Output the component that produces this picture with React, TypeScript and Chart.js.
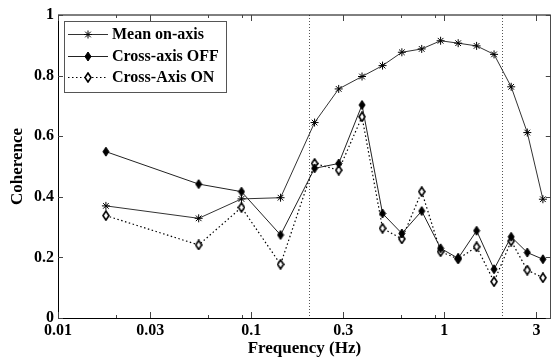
import React, { useEffect, useRef } from "react";
import { Chart, registerables } from "chart.js";

Chart.register(...registerables);

// ---- data ----
const frequencies = [0.0177, 0.0535, 0.0891, 0.142, 0.213, 0.284, 0.375, 0.479, 0.603, 0.764, 0.957, 1.18, 1.47, 1.81, 2.22, 2.69, 3.24];
const meanOnAxis = [0.37, 0.329, 0.393, 0.397, 0.645, 0.756, 0.797, 0.833, 0.877, 0.888, 0.915, 0.907, 0.898, 0.87, 0.763, 0.612, 0.392];
const crossAxisOff = [0.549, 0.442, 0.417, 0.274, 0.494, 0.51, 0.703, 0.345, 0.279, 0.353, 0.23, 0.197, 0.288, 0.161, 0.268, 0.216, 0.194];
const crossAxisOn = [0.338, 0.241, 0.365, 0.177, 0.51, 0.488, 0.664, 0.296, 0.261, 0.417, 0.219, 0.195, 0.235, 0.12, 0.254, 0.158, 0.133];
const seriesLabels = ["Mean on-axis", "Cross-axis OFF", "Cross-Axis ON"];
const xMajorTicks = [0.01, 0.03, 0.1, 0.3, 1, 3];
const xMinorTicks = [0.02, 0.06, 0.09, 0.6, 0.9];
const referenceLines = [0.2, 2];
const yTicks = [0, 0.2, 0.4, 0.6, 0.8, 1];
const xTitle = "Frequency (Hz)";
const yTitle = "Coherence";

const FONT = "'Liberation Serif', 'Times New Roman', serif";

function makeDiamond(fill: string, stroke: string, w: number, h: number, lw: number) {
  const c = document.createElement("canvas");
  c.width = w + 2;
  c.height = h + 2;
  const ctx = c.getContext("2d")!;
  const cx = c.width / 2;
  const cy = c.height / 2;
  ctx.beginPath();
  ctx.moveTo(cx, cy - h / 2);
  ctx.lineTo(cx + w / 2, cy);
  ctx.lineTo(cx, cy + h / 2);
  ctx.lineTo(cx - w / 2, cy);
  ctx.closePath();
  ctx.fillStyle = fill;
  ctx.fill();
  ctx.lineWidth = lw;
  ctx.strokeStyle = stroke;
  ctx.stroke();
  return c;
}

function drawStar(ctx: CanvasRenderingContext2D, x: number, y: number, r: number) {
  ctx.save();
  ctx.strokeStyle = "#000";
  ctx.lineWidth = 1;
  ctx.beginPath();
  ctx.moveTo(x - r, y);
  ctx.lineTo(x + r, y);
  ctx.moveTo(x, y - r);
  ctx.lineTo(x, y + r);
  const d = r * 0.707;
  ctx.moveTo(x - d, y - d);
  ctx.lineTo(x + d, y + d);
  ctx.moveTo(x - d, y + d);
  ctx.lineTo(x + d, y - d);
  ctx.stroke();
  ctx.restore();
}

export default function App() {
  const ref = useRef<HTMLCanvasElement | null>(null);

  useEffect(() => {
    if (!ref.current) return;
    const filledDiamond = makeDiamond("#000", "#000", 6, 9, 1);
    const openDiamond = makeDiamond("#fff", "#000", 6, 9, 1.6);

    const axesPlugin = {
      id: "matlabAxes",
      beforeDatasetsDraw(chart: any) {
        const { ctx, chartArea, scales } = chart;
        const { top, bottom } = chartArea;
        ctx.save();
        ctx.strokeStyle = "#555";
        ctx.lineWidth = 1;
        ctx.setLineDash([1, 2]);
        referenceLines.forEach((v) => {
          const px = Math.round(scales.x.getPixelForValue(v)) + 0.5;
          ctx.beginPath();
          ctx.moveTo(px, top);
          ctx.lineTo(px, bottom);
          ctx.stroke();
        });
        ctx.restore();
      },
      afterDraw(chart: any) {
        const { ctx, chartArea, scales } = chart;
        const { left, right, top, bottom } = chartArea;
        ctx.save();
        // box
        ctx.strokeStyle = "#000";
        ctx.lineWidth = 1;
        ctx.beginPath();
        ctx.moveTo(left + 0.5, top);
        ctx.lineTo(left + 0.5, bottom + 0.5);
        ctx.lineTo(right, bottom + 0.5);
        ctx.stroke();
        ctx.beginPath();
        ctx.moveTo(left, top);
        ctx.lineTo(right, top);
        ctx.lineTo(right, bottom);
        ctx.stroke();
        // ticks
        ctx.strokeStyle = "#444";
        const xt = (vals: number[], len: number) => {
          vals.forEach((v) => {
            const px = Math.round(scales.x.getPixelForValue(v)) + 0.5;
            ctx.beginPath();
            ctx.moveTo(px, bottom);
            ctx.lineTo(px, bottom - len);
            ctx.moveTo(px, top);
            ctx.lineTo(px, top + len);
            ctx.stroke();
          });
        };
        xt(xMajorTicks, 6);
        xt(xMinorTicks, 3);
        yTicks.forEach((v) => {
          const py = Math.round(scales.y.getPixelForValue(v)) + 0.5;
          ctx.beginPath();
          ctx.moveTo(left, py);
          ctx.lineTo(left + 5, py);
          ctx.moveTo(right, py);
          ctx.lineTo(right - 5, py);
          ctx.stroke();
        });

        // legend
        const bx = 64.5, by = 21.5, bw = 162, bh = 71;
        ctx.fillStyle = "#fff";
        ctx.fillRect(bx, by, bw, bh);
        ctx.strokeStyle = "#555";
        ctx.strokeRect(bx, by, bw, bh);
        const rows = [34, 56, 77];
        const ds = chart.data.datasets;
        rows.forEach((ry, i) => {
          const d = ds[i];
          ctx.save();
          ctx.strokeStyle = d.borderColor;
          ctx.lineWidth = d.borderWidth;
          ctx.setLineDash(d.borderDash || []);
          ctx.beginPath();
          ctx.moveTo(68, ry + 0.5);
          ctx.lineTo(108, ry + 0.5);
          ctx.stroke();
          ctx.restore();
          if (i === 0) drawStar(ctx, 88, ry + 0.5, 4);
          else {
            const img = i === 1 ? filledDiamond : openDiamond;
            ctx.drawImage(img, 88 - img.width / 2, ry + 0.5 - img.height / 2);
          }
          ctx.fillStyle = "#000";
          ctx.font = `bold 16px ${FONT}`;
          ctx.textBaseline = "middle";
          ctx.textAlign = "left";
          ctx.fillText(seriesLabels[i], 112, ry + 1);
        });
        ctx.restore();
      },
    };

    const tickFont = { family: FONT, size: 16, weight: "bold" as const };
    const titleFont = { family: FONT, size: 17, weight: "bold" as const, lineHeight: 1 };

    const chart = new Chart(ref.current, {
      type: "line",
      data: {
        datasets: [
          {
            label: seriesLabels[0],
            data: frequencies.map((f, i) => ({ x: f, y: meanOnAxis[i] })),
            borderColor: "#333",
            borderWidth: 1,
            pointStyle: "star",
            pointRadius: 4,
            pointBorderColor: "#000",
            pointBackgroundColor: "#000",
            pointBorderWidth: 1,
            tension: 0,
          },
          {
            label: seriesLabels[1],
            data: frequencies.map((f, i) => ({ x: f, y: crossAxisOff[i] })),
            borderColor: "#222",
            borderWidth: 1,
            pointStyle: filledDiamond as any,
            tension: 0,
          },
          {
            label: seriesLabels[2],
            data: frequencies.map((f, i) => ({ x: f, y: crossAxisOn[i] })),
            borderColor: "#000",
            borderWidth: 1.2,
            borderDash: [1.5, 2.5],
            pointStyle: openDiamond as any,
            tension: 0,
          },
        ],
      },
      options: {
        animation: false,
        responsive: false,
        devicePixelRatio: 1,
        layout: { padding: { top: 15, right: 3, left: 0, bottom: 0 } },
        plugins: { legend: { display: false }, tooltip: { enabled: false } },
        scales: {
          x: {
            type: "logarithmic",
            min: 0.01,
            max: 3.56,
            grid: { display: false, drawTicks: false },
            border: { display: false },
            afterBuildTicks: (s: any) => {
              s.ticks = xMajorTicks.map((v) => ({ value: v }));
            },
            ticks: {
              autoSkip: false,
              maxRotation: 0,
              padding: 3,
              color: "#000",
              font: tickFont,
              callback: (v: any) => String(v),
            },
            title: { display: true, text: xTitle, color: "#000", font: titleFont, padding: 0 },
            afterFit: (s: any) => {
              s.height = 39;
            },
          },
          y: {
            min: 0,
            max: 1,
            grid: { display: false, drawTicks: false },
            border: { display: false },
            afterBuildTicks: (s: any) => {
              s.ticks = yTicks.map((v) => ({ value: v }));
            },
            ticks: {
              padding: 4,
              color: "#000",
              font: tickFont,
              callback: (v: any) => String(Math.round(Number(v) * 10) / 10),
            },
            title: { display: true, text: yTitle, color: "#000", font: titleFont, padding: { top: 9.5, bottom: 0 } },
            afterFit: (s: any) => {
              s.width = 58;
            },
          },
        },
      },
      plugins: [axesPlugin],
    } as any);

    return () => chart.destroy();
  }, []);

  return (
    <div
      style={{
        position: "absolute",
        left: 0,
        top: 0,
        width: 551,
        height: 357,
        overflow: "hidden",
        background: "#fff",
      }}
    >
      <canvas ref={ref} width={556} height={357} style={{ display: "block", width: 556, height: 357 }} />
    </div>
  );
}
